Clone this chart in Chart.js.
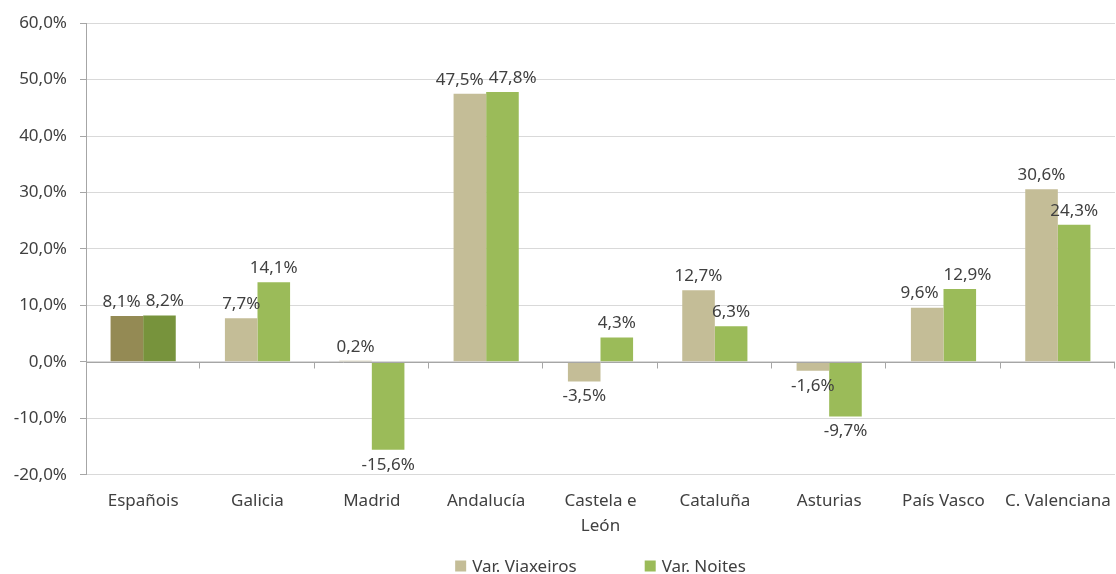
<!DOCTYPE html>
<html lang="gl">
<head>
    <meta charset="UTF-8">
    <title>Var. Viaxeiros / Var. Noites</title>
    <script src="https://cdn.jsdelivr.net/npm/chart.js@4.4.1/dist/chart.umd.min.js"></script>
    <style>
        html, body { margin: 0; padding: 0; background: #ffffff; }
        #wrap { width: 1116px; height: 574px; position: relative; }
    </style>
</head>
<body>
    <div id="wrap">
        <canvas id="chart1"></canvas>
    </div>

    <script>
        var categories = ["Españois", "Galicia", "Madrid", "Andalucía", ["Castela e", "León"], "Cataluña", "Asturias", "País Vasco", "C. Valenciana"];
        var viaxeiros = [8.1, 7.7, 0.2, 47.5, -3.5, 12.7, -1.6, 9.6, 30.6];
        var noites = [8.2, 14.1, -15.6, 47.8, 4.3, 6.3, -9.7, 12.9, 24.3];
        var seriesNames = ["Var. Viaxeiros", "Var. Noites"];
        var yTicks = { min: -20, max: 60, step: 10 };

        var tan = "#C4BD97", tanDark = "#948A54";
        var green = "#9BBB59", greenDark = "#77933C";
        var textColor = "#404040";
        var gridColor = "#D9D9D9";
        var axisColor = "#A6A6A6";
        var fontFamily = "'Noto Sans', 'Open Sans', sans-serif";
        var fontSize = 17;

        function pct(v) {
            return v.toFixed(1).replace(".", ",") + "%";
        }

        // first group (Españois) is drawn darker
        var tanColors = viaxeiros.map((v, i) => i == 0 ? tanDark : tan);
        var greenColors = noites.map((v, i) => i == 0 ? greenDark : green);

        // value labels above / below each bar, pushed apart when the pair collides
        var barLabels = {
            id: "barLabels",
            afterDatasetsDraw(chart) {
                let ctx = chart.ctx;
                ctx.save();
                ctx.font = fontSize + "px " + fontFamily;
                ctx.fillStyle = textColor;
                ctx.textAlign = "center";
                ctx.textBaseline = "middle";
                let m0 = chart.getDatasetMeta(0), m1 = chart.getDatasetMeta(1);
                for (let i = 0; i < categories.length; i++) {
                    let items = [[viaxeiros[i], m0.data[i]], [noites[i], m1.data[i]]].map(([v, bar]) => {
                        let t = pct(v);
                        return {
                            t: t,
                            x: bar.x,
                            y: v >= 0 ? bar.y - 14 : bar.y + 15,
                            w: ctx.measureText(t).width
                        };
                    });
                    let a = items[0], b = items[1];
                    let need = (a.w + b.w) / 2 + 5 - (b.x - a.x);
                    if (Math.abs(a.y - b.y) < 30 && need > 0) {
                        a.x -= need / 2;
                        b.x += need / 2;
                    }
                    items.forEach(it => ctx.fillText(it.t, it.x, it.y));
                }
                ctx.restore();
            }
        };

        // category axis crosses at 0: line and small tick marks between groups
        var zeroAxis = {
            id: "zeroAxis",
            afterDatasetsDraw(chart) {
                let ctx = chart.ctx;
                let area = chart.chartArea;
                let y0 = Math.round(chart.scales.y.getPixelForValue(0)) + 0.5;
                let step = (area.right - area.left) / categories.length;
                ctx.save();
                ctx.strokeStyle = axisColor;
                ctx.lineWidth = 1;
                ctx.beginPath();
                ctx.moveTo(area.left, y0);
                ctx.lineTo(area.right, y0);
                for (let i = 1; i <= categories.length; i++) {
                    let bx = Math.round(area.left + step * i) - 0.5;
                    ctx.moveTo(bx, y0);
                    ctx.lineTo(bx, y0 + 6);
                }
                ctx.stroke();
                ctx.restore();
            }
        };

        // legend under the plot, centred on the plot area
        var bottomLegend = {
            id: "bottomLegend",
            afterDraw(chart) {
                let ctx = chart.ctx;
                let area = chart.chartArea;
                let colors = [tan, green];
                ctx.save();
                ctx.font = fontSize + "px " + fontFamily;
                ctx.textBaseline = "middle";
                ctx.textAlign = "left";
                let box = 11, gap = 6, itemGap = 68;
                let widths = seriesNames.map(s => box + gap + ctx.measureText(s).width);
                let total = widths.reduce((p, c) => p + c, 0) + itemGap * (widths.length - 1);
                let x = (area.left + area.right) / 2 - total / 2;
                let y = chart.height - 8;
                seriesNames.forEach((s, i) => {
                    ctx.fillStyle = colors[i];
                    ctx.fillRect(x, y - box / 2, box, box);
                    ctx.fillStyle = textColor;
                    ctx.fillText(s, x + box + gap, y + 1);
                    x += widths[i] + itemGap;
                });
                ctx.restore();
            }
        };

        var context1 = document.getElementById("chart1").getContext("2d");
        window.chart1 = new Chart(context1, {
            type: "bar",
            data: {
                labels: categories,
                datasets: [
                    {
                        label: seriesNames[0],
                        data: viaxeiros,
                        backgroundColor: tanColors,
                        categoryPercentage: 0.57,
                        barPercentage: 1.0
                    },
                    {
                        label: seriesNames[1],
                        data: noites,
                        backgroundColor: greenColors,
                        categoryPercentage: 0.57,
                        barPercentage: 1.0
                    }
                ]
            },
            options: {
                responsive: true,
                maintainAspectRatio: false,
                animation: false,
                layout: { padding: { top: 13, right: 1, left: 0, bottom: 22 } },
                plugins: {
                    tooltip: { enabled: false },
                    legend: { display: false }
                },
                scales: {
                    x: {
                        afterFit(scale) { scale.paddingLeft = 0; scale.paddingRight = 0; },
                        grid: { display: false, drawTicks: false },
                        border: { display: false },
                        ticks: {
                            color: textColor,
                            font: { family: fontFamily, size: fontSize, lineHeight: 1.45 },
                            padding: 14,
                            maxRotation: 0,
                            autoSkip: false
                        }
                    },
                    y: {
                        min: yTicks.min,
                        max: yTicks.max,
                        afterFit(scale) { scale.width = 86; },
                        grid: {
                            color: gridColor,
                            tickColor: axisColor,
                            tickLength: 6
                        },
                        border: { color: axisColor },
                        ticks: {
                            stepSize: yTicks.step,
                            color: textColor,
                            font: { family: fontFamily, size: fontSize },
                            padding: 13,
                            callback: (v) => pct(v)
                        }
                    }
                }
            },
            plugins: [barLabels, zeroAxis, bottomLegend]
        });
    </script>
</body>
</html>
